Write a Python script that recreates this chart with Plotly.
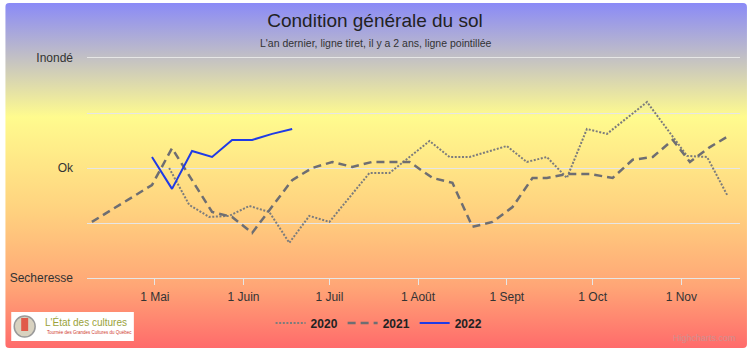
import base64
import plotly.graph_objects as go

# ---------------- data ----------------
dates_2020 = ["2022-05-06", "2022-05-13", "2022-05-20", "2022-05-27", "2022-06-03", "2022-06-10",
              "2022-06-17", "2022-06-24", "2022-07-01", "2022-07-15", "2022-07-22", "2022-08-05",
              "2022-08-12", "2022-08-19", "2022-09-01", "2022-09-08", "2022-09-15", "2022-09-22",
              "2022-09-29", "2022-10-06", "2022-10-20", "2022-11-03", "2022-11-10", "2022-11-17"]
vals_2020 = [0.0, -0.67, -0.89, -0.87, -0.69, -0.8,
             -1.36, -0.87, -0.98, -0.09, -0.09, 0.49,
             0.2, 0.2, 0.4, 0.11, 0.2, -0.18,
             0.71, 0.62, 1.2, 0.22, 0.2, -0.49]

dates_2021 = ["2022-04-09", "2022-04-30", "2022-05-07", "2022-05-21", "2022-05-28", "2022-06-04",
              "2022-06-18", "2022-06-25", "2022-07-02", "2022-07-09", "2022-07-16", "2022-07-23",
              "2022-07-29", "2022-08-06", "2022-08-13", "2022-08-20", "2022-08-27", "2022-09-03",
              "2022-09-10", "2022-09-15", "2022-09-22", "2022-09-30", "2022-10-08", "2022-10-15",
              "2022-10-22", "2022-10-29", "2022-11-04", "2022-11-11", "2022-11-18"]
vals_2021 = [-0.98, -0.31, 0.36, -0.8, -0.89, -1.18,
             -0.22, 0.0, 0.11, 0.02, 0.11, 0.11,
             0.11, -0.18, -0.27, -1.07, -0.98, -0.71,
             -0.18, -0.18, -0.11, -0.11, -0.18, 0.15,
             0.2, 0.51, 0.11, 0.38, 0.6]

dates_2022 = ["2022-04-30", "2022-05-07", "2022-05-14", "2022-05-21", "2022-05-28", "2022-06-04",
              "2022-06-11", "2022-06-18"]
vals_2022 = [0.2, -0.38, 0.31, 0.2, 0.51, 0.51, 0.62, 0.71]

x_tick_vals = ["2022-05-01", "2022-06-01", "2022-07-01", "2022-08-01", "2022-09-01", "2022-10-01", "2022-11-01"]
x_tick_text = ["1 Mai", "1 Juin", "1 Juil", "1 Août", "1 Sept", "1 Oct", "1 Nov"]
y_tick_vals = [-2, -1, 0, 1, 2]
y_tick_text = ["Secheresse", "", "Ok", "", "Inondé"]

# ---------------- layout helpers ----------------
W, H = 750, 351
L, R, T, B = 85, 740, 58, 278


def px(x):
    return (x - L) / (R - L)


def py(y):
    return (B - y) / (B - T)


FONT = "Liberation Sans, Arial, sans-serif"
GRID = "#e6e6e6"

svg = ('<svg xmlns="http://www.w3.org/2000/svg" width="744" height="345" preserveAspectRatio="none" '
       'viewBox="0 0 744 345"><defs><linearGradient id="g" x1="0" y1="0" x2="0" y2="1">'
       '<stop offset="0" stop-color="#8a8af7"/>'
       '<stop offset="0.33" stop-color="#fffb8e"/>'
       '<stop offset="0.6" stop-color="#ffd27f"/>'
       '<stop offset="0.82" stop-color="#ffa676"/>'
       '<stop offset="1" stop-color="#ff6b6b"/>'
       '</linearGradient></defs><rect x="0" y="0" width="744" height="345" rx="4" fill="url(#g)"/></svg>')
bg_uri = "data:image/svg+xml;base64," + base64.b64encode(svg.encode()).decode()

fig = go.Figure()
fig.add_trace(go.Scatter(x=dates_2020, y=vals_2020, mode="lines", name="2020",
                         line=dict(color="#7c7c7c", width=2, dash="2px,1.6px")))
fig.add_trace(go.Scatter(x=dates_2021, y=vals_2021, mode="lines", name="2021",
                         line=dict(color="#6e6e72", width=2.5, dash="8px,5px")))
fig.add_trace(go.Scatter(x=dates_2022, y=vals_2022, mode="lines", name="2022",
                         line=dict(color="#1f3be6", width=2)))

fig.update_layout(
    width=W, height=H,
    margin=dict(l=L, r=W - R, t=T, b=H - B),
    paper_bgcolor="white",
    plot_bgcolor="rgba(0,0,0,0)",
    font=dict(family=FONT, color="#333333", size=12),
    title=dict(text="Condition générale du sol", x=0.5, xref="container", xanchor="center",
               y=1 - 20 / H, yref="container", yanchor="middle",
               font=dict(family=FONT, size=19, color="#222222")),
    showlegend=True,
    legend=dict(orientation="h", x=px(378), xanchor="center", y=py(323), yanchor="middle",
                bgcolor="rgba(0,0,0,0)",
                font=dict(family=FONT, size=12, color="#222222", weight="bold"),
                itemwidth=30, tracegroupgap=0),
    xaxis=dict(type="date", range=["2022-04-07 07:00", "2022-11-21 12:00"],
               tickvals=x_tick_vals, ticktext=x_tick_text,
               showgrid=False, zeroline=False,
               showline=True, mirror=True, linecolor=GRID, linewidth=1,
               ticks="outside", ticklen=6, tickcolor=GRID, tickwidth=1,
               ticklabelstandoff=2,
               tickfont=dict(family=FONT, size=12, color="#333333")),
    yaxis=dict(range=[-2, 2], tickvals=y_tick_vals, ticktext=y_tick_text,
               showgrid=True, gridcolor=GRID, gridwidth=1,
               zeroline=False, showline=False, ticks="", ticklabelstandoff=13,
               tickfont=dict(family=FONT, size=12, color="#333333")),
    images=[dict(source=bg_uri, xref="paper", yref="paper", x=px(3), y=py(3),
                 sizex=744 / (R - L), sizey=345 / (B - T), xanchor="left", yanchor="top",
                 sizing="stretch", layer="below", opacity=1)],
)

# subtitle
fig.add_annotation(text="L'an dernier, ligne tiret, il y a 2 ans, ligne pointillée",
                   xref="paper", yref="paper", x=px(375), y=py(43), showarrow=False,
                   xanchor="center", yanchor="middle",
                   font=dict(family=FONT, size=10.5, color="#333333"))

# logo box (approximation)
fig.add_shape(type="rect", xref="paper", yref="paper", x0=px(9), x1=px(132), y0=py(312), y1=py(341),
              fillcolor="white", line=dict(width=0), layer="above")
fig.add_shape(type="circle", xref="paper", yref="paper", x0=px(12), x1=px(33), y0=py(316), y1=py(337),
              fillcolor="#d8d2c0", line=dict(color="#9a9a9a", width=1.5), layer="above")
fig.add_shape(type="rect", xref="paper", yref="paper", x0=px(19), x1=px(26), y0=py(318), y1=py(331),
              fillcolor="#e05a4a", line=dict(width=0), layer="above")
fig.add_annotation(text="L'État des cultures", xref="paper", yref="paper", x=px(41), y=py(322),
                   showarrow=False, xanchor="left", yanchor="middle",
                   font=dict(family=FONT, size=10, color="#9aa23a"))
fig.add_annotation(text="Tournée des Grandes Cultures du Québec", xref="paper", yref="paper",
                   x=px(43), y=py(332), showarrow=False, xanchor="left", yanchor="middle",
                   font=dict(family=FONT, size=4.5, color="#d04030"))

# credit
fig.add_annotation(text="Highcharts.com", xref="paper", yref="paper", x=px(738), y=py(338),
                   showarrow=False, xanchor="right", yanchor="middle",
                   font=dict(family=FONT, size=9, color="#d09090"))

fig.write_html("out.html")
